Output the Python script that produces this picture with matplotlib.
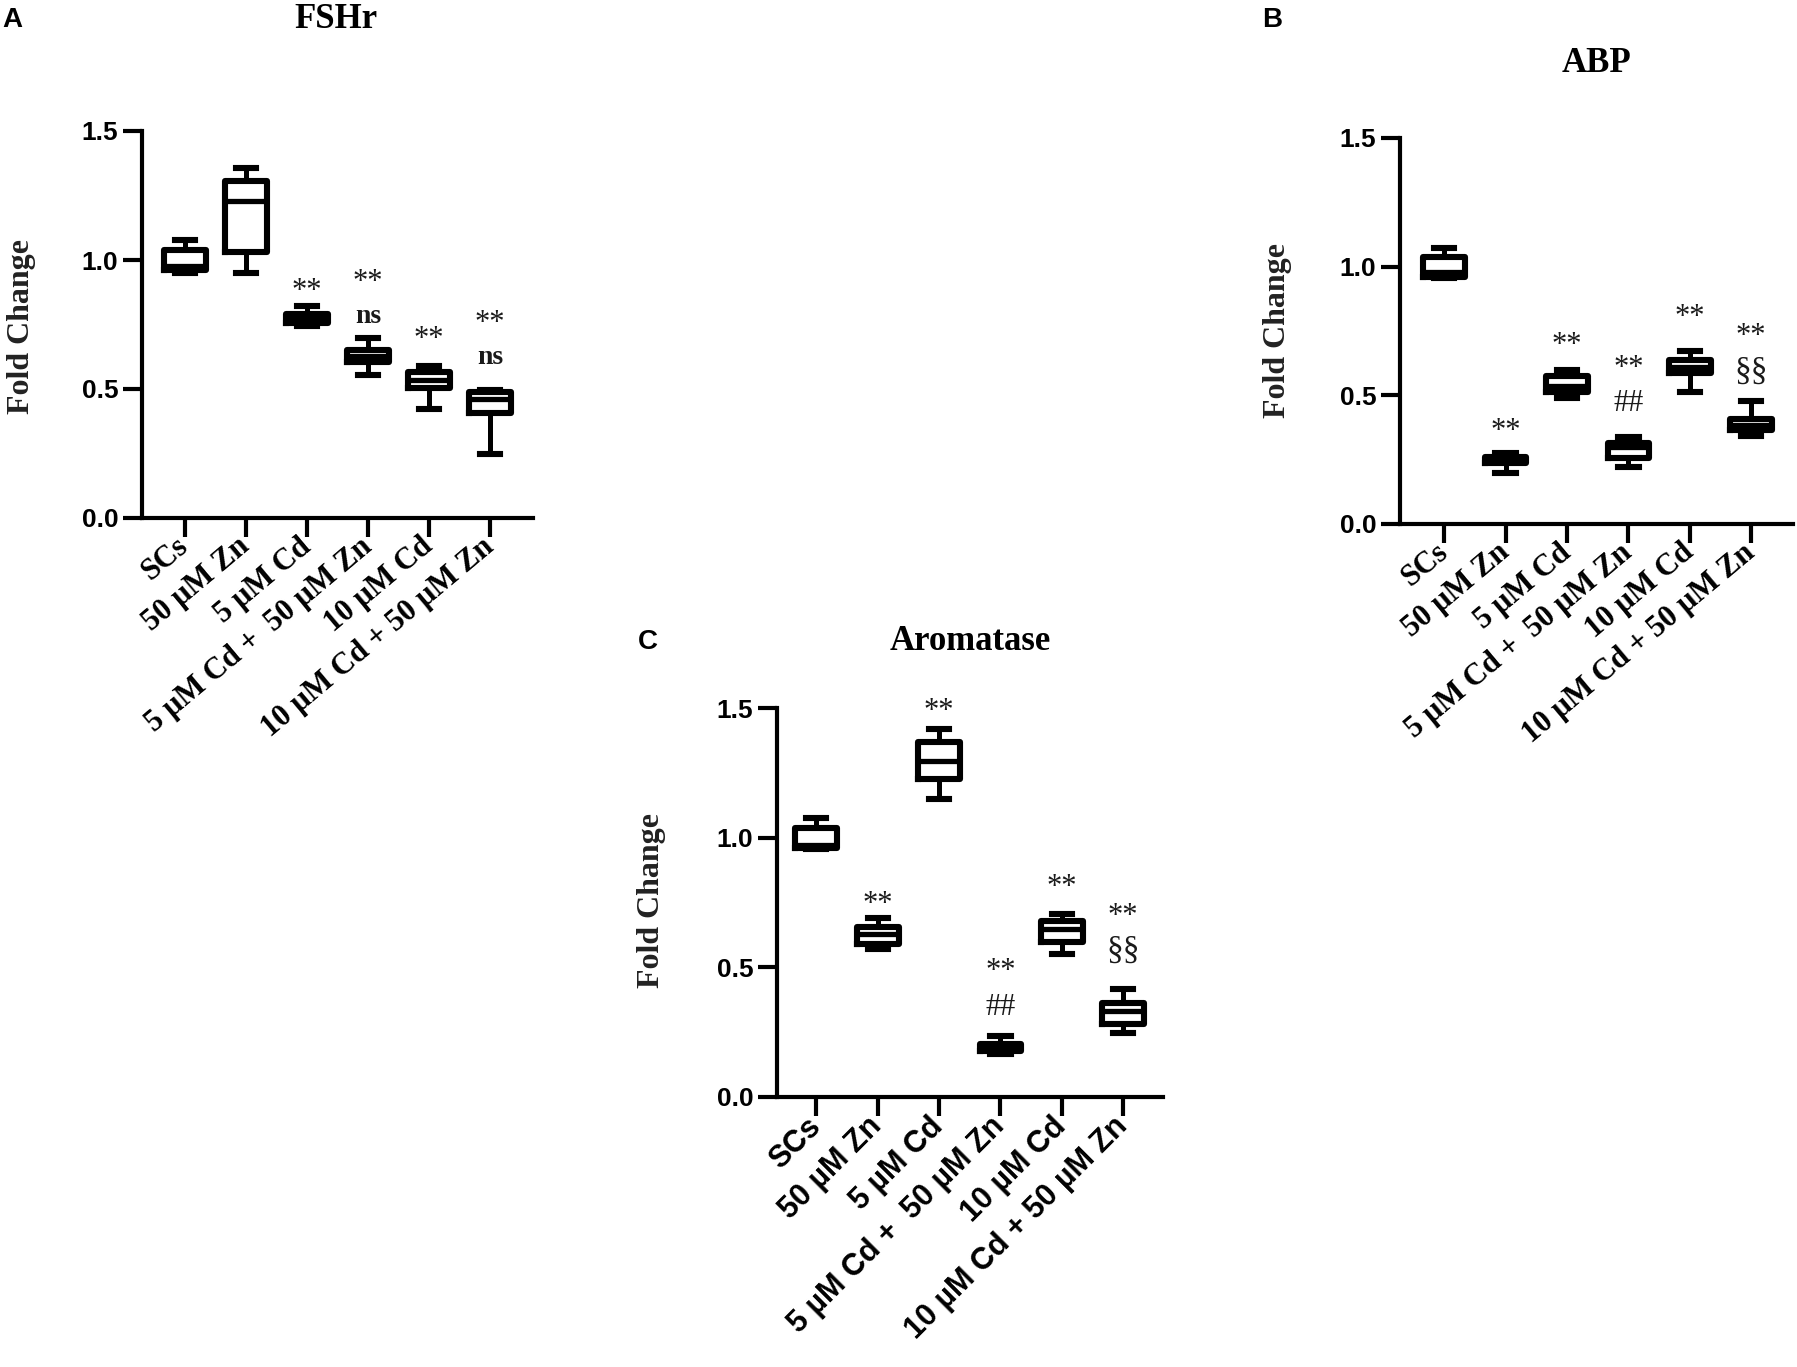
import matplotlib
matplotlib.use("Agg")
import matplotlib.pyplot as plt
from matplotlib.transforms import ScaledTranslation

SERIF = "Liberation Serif"
SANS = "Liberation Sans"

groups = ["SCs", "50 µM Zn", "5 µM Cd", "5 µM Cd +  50 µM Zn",
          "10 µM Cd", "10 µM Cd + 50 µM Zn"]

# FSHr box stats (whisker low, q1, median, q3, whisker high)
fshr_lo = [0.950, 0.950, 0.745, 0.553, 0.422, 0.249]
fshr_q1 = [0.960, 1.030, 0.755, 0.606, 0.505, 0.408]
fshr_med = [0.975, 1.230, 0.770, 0.629, 0.535, 0.463]
fshr_q3 = [1.040, 1.307, 0.790, 0.653, 0.564, 0.487]
fshr_hi = [1.076, 1.358, 0.820, 0.698, 0.588, 0.498]

# ABP
abp_lo = [0.955, 0.199, 0.490, 0.221, 0.512, 0.342]
abp_q1 = [0.960, 0.236, 0.512, 0.257, 0.586, 0.364]
abp_med = [0.980, 0.249, 0.537, 0.298, 0.611, 0.386]
abp_q3 = [1.038, 0.261, 0.575, 0.316, 0.637, 0.409]
abp_hi = [1.072, 0.276, 0.600, 0.339, 0.674, 0.478]

# Aromatase
aro_lo = [0.955, 0.570, 1.149, 0.165, 0.551, 0.248]
aro_q1 = [0.960, 0.589, 1.226, 0.178, 0.596, 0.283]
aro_med = [0.970, 0.628, 1.297, 0.190, 0.647, 0.332]
aro_q3 = [1.037, 0.654, 1.368, 0.206, 0.679, 0.364]
aro_hi = [1.076, 0.692, 1.419, 0.235, 0.705, 0.416]

# significance marks: (group index, text, y of symbol centre)
fshr_marks = [(2, "**", 0.919), (3, "**", 0.954), (3, "ns", 0.788),
              (4, "**", 0.733), (5, "**", 0.795), (5, "ns", 0.629)]
abp_marks = [(1, "**", 0.401), (2, "**", 0.733), (3, "**", 0.645), (3, "##", 0.482),
             (4, "**", 0.844), (5, "**", 0.770), (5, "§§", 0.600)]
aro_marks = [(1, "**", 0.782), (2, "**", 1.528), (3, "**", 0.525), (3, "##", 0.358),
             (4, "**", 0.847), (5, "**", 0.737), (5, "§§", 0.570)]

W, H = 1797, 1367
fig = plt.figure(figsize=(W / 100, H / 100), dpi=100)
fig.patch.set_facecolor("white")

# vertical offset (points) from symbol centre to baseline
mark_off = {"**": -13, "ns": -6, "##": -8, "§§": -7}
mark_style = {"**": dict(fontsize=22, fontweight="normal"),
              "ns": dict(fontsize=20, fontweight="bold"),
              "##": dict(fontsize=22, fontweight="normal"),
              "§§": dict(fontsize=24, fontweight="normal")}


def panel(box, xlim, lo, q1, med, q3, hi, marks, tick_font):
    left, right, top, bottom = box
    ax = fig.add_axes([left / W, 1 - bottom / H, (right - left) / W, (bottom - top) / H])
    stats = []
    for i in range(len(groups)):
        stats.append(dict(whislo=lo[i], q1=q1[i], med=med[i], q3=q3[i],
                          whishi=hi[i], fliers=[]))
    lw = 4.4
    ax.bxp(stats, positions=range(len(groups)), widths=0.68, capwidths=0.33,
           showfliers=False,
           boxprops=dict(color="black", linewidth=lw),
           whiskerprops=dict(color="black", linewidth=lw - 0.8),
           capprops=dict(color="black", linewidth=lw),
           medianprops=dict(color="black", linewidth=lw - 0.6))
    ax.set_ylim(0, 1.5)
    ax.set_xlim(*xlim)
    ax.set_yticks([0.0, 0.5, 1.0, 1.5])
    ax.set_yticklabels(["0.0", "0.5", "1.0", "1.5"], fontfamily=SANS,
                       fontweight="bold", fontsize=19)
    ax.set_xticks(range(len(groups)))
    if tick_font == SERIF:
        rot, fs = 40, 22
    else:
        rot, fs = 45, 22
    ax.set_xticklabels(groups, rotation=rot, ha="right", va="center",
                       rotation_mode="anchor", fontfamily=tick_font,
                       fontweight="bold", fontsize=fs)
    shift = ScaledTranslation(7 / 100, -8 / 100, fig.dpi_scale_trans)
    for lab in ax.get_xticklabels():
        lab.set_transform(lab.get_transform() + shift)
    ax.tick_params(axis="y", length=14, width=3, pad=3, colors="black")
    ax.tick_params(axis="x", length=14, width=3, pad=4, colors="black")
    for s in ["top", "right"]:
        ax.spines[s].set_visible(False)
    for s in ["left", "bottom"]:
        ax.spines[s].set_linewidth(3)
    for gi, txt, y in marks:
        ax.annotate(txt, (gi, y), xytext=(0, mark_off[txt]), textcoords="offset points",
                    ha="center", va="baseline", fontfamily=SERIF, annotation_clip=False,
                    color="#1a1a1a", **mark_style[txt])
    return ax


panel((142, 533, 131, 518), (-0.70, 5.70),
      fshr_lo, fshr_q1, fshr_med, fshr_q3, fshr_hi, fshr_marks, SERIF)
panel((1400, 1793, 138, 524), (-0.72, 5.68),
      abp_lo, abp_q1, abp_med, abp_q3, abp_hi, abp_marks, SERIF)
panel((777, 1163, 708, 1097), (-0.64, 5.65),
      aro_lo, aro_q1, aro_med, aro_q3, aro_hi, aro_marks, SANS)


def ftext(x, y, s, **kw):
    fig.text(x / W, 1 - y / H, s, **kw)


# panel letters
ftext(2, 20, "A", fontfamily=SANS, fontweight="bold", fontsize=20, ha="left", va="center")
ftext(1262, 20, "B", fontfamily=SANS, fontweight="bold", fontsize=20, ha="left", va="center")
ftext(638, 642, "C", fontfamily=SANS, fontweight="bold", fontsize=20, ha="left", va="center")

# titles
ftext(336, 20, "FSHr", fontfamily=SERIF, fontweight="bold", fontsize=25, ha="center", va="center")
ftext(1596, 63, "ABP", fontfamily=SERIF, fontweight="bold", fontsize=25, ha="center", va="center")
ftext(970, 642, "Aromatase", fontfamily=SERIF, fontweight="bold", fontsize=25,
      ha="center", va="center")

# y labels
for x, y in [(22, 327), (1277, 330), (652, 900)]:
    ftext(x, y, "Fold Change", fontfamily=SERIF, fontweight="bold", fontsize=23,
          rotation=90, ha="center", va="center", color="#222222")

fig.savefig("out.png", dpi=100, facecolor="white")
